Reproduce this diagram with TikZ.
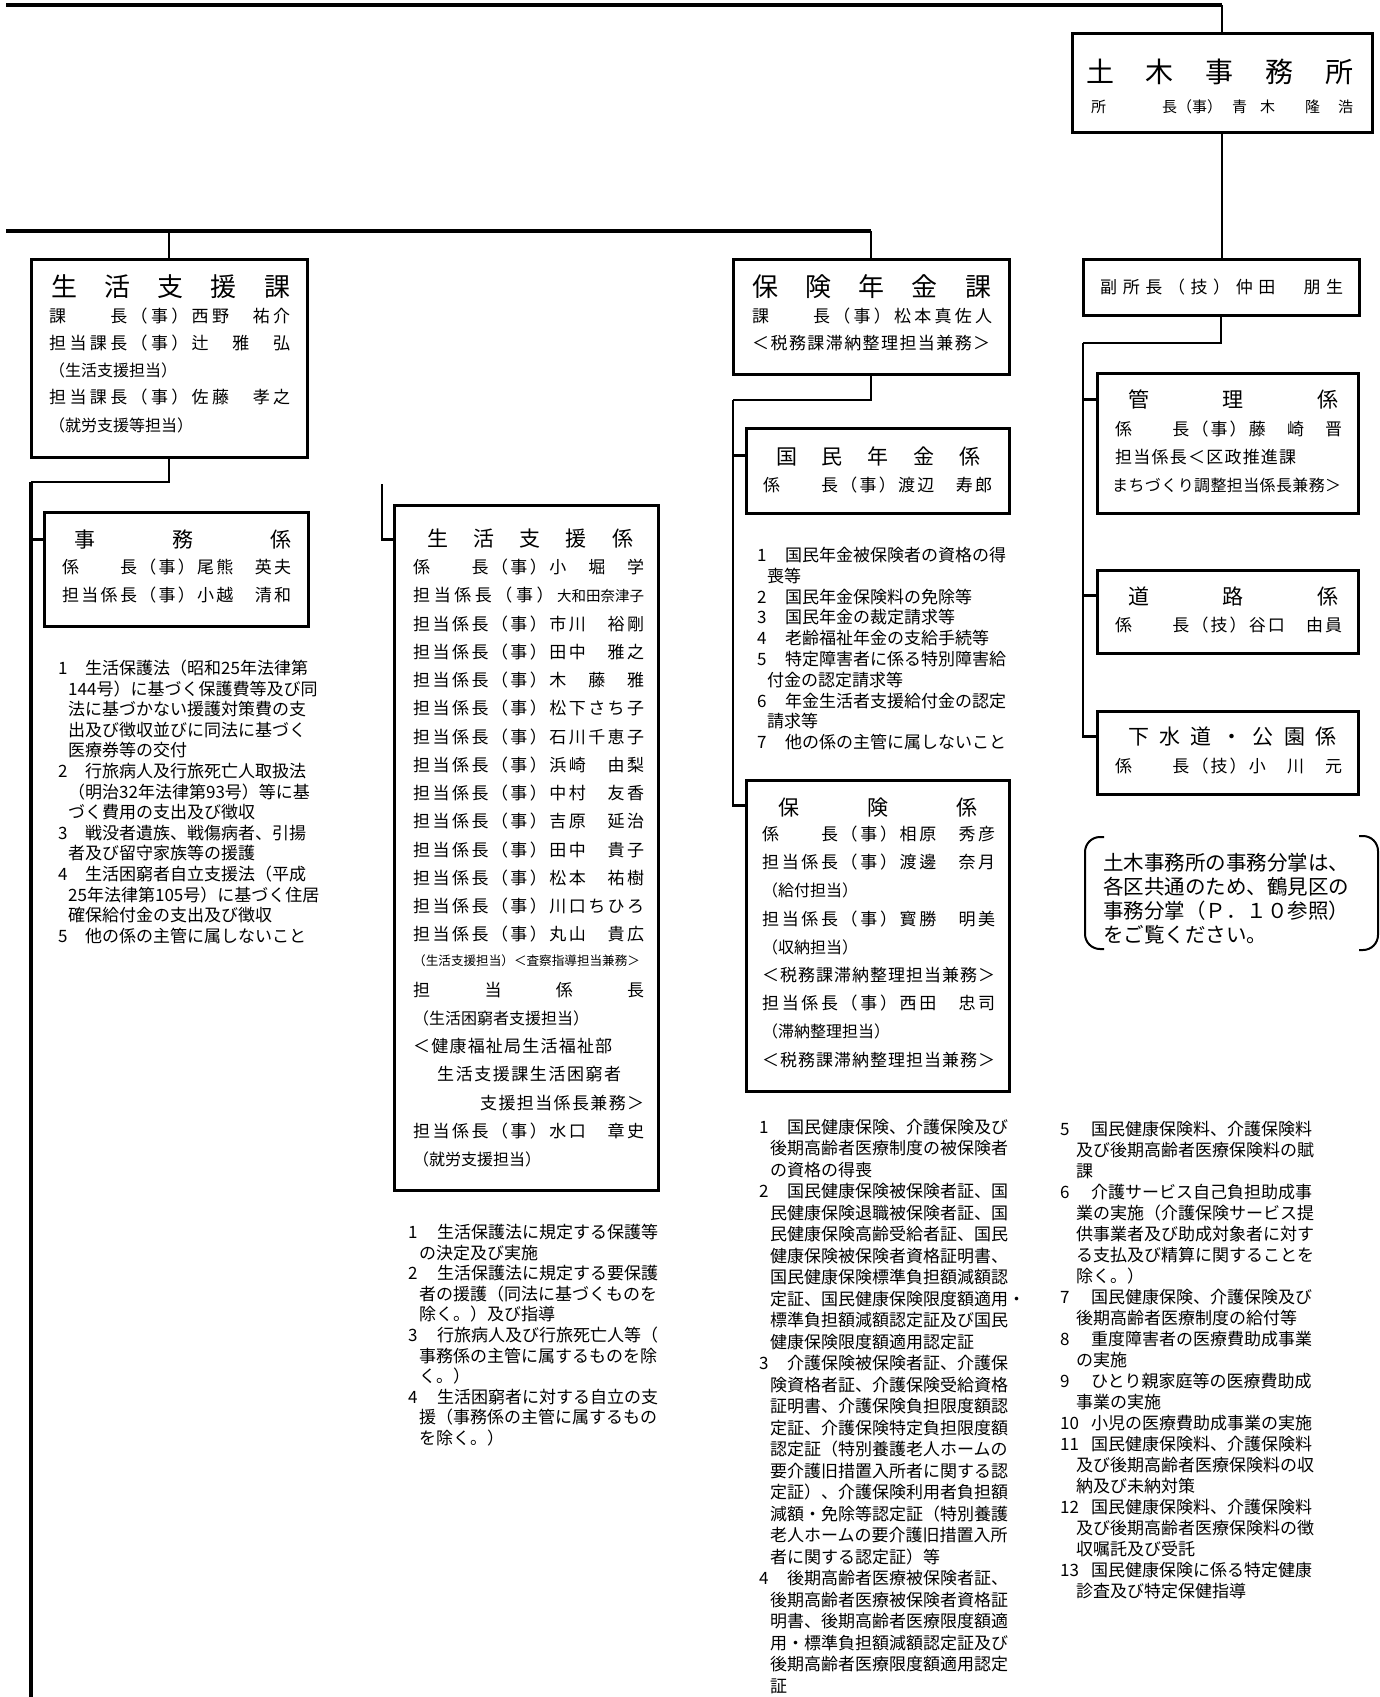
\documentclass[tikz,border=0pt]{standalone}
\usepackage{fontspec}
\setmainfont{Noto Sans CJK JP}
\ExplSyntaxOn
\NewDocumentCommand\spr{mm}{\hbox~to~#1{\hskip~0pt~plus~-1fil\relax\tl_map_inline:nn{#2}{\hfil##1}}}
\ExplSyntaxOff
\newcommand\Li[2]{\hbox{\hbox to\LstNw{#1\hss}#2}}
\newcommand\Lc[1]{\hbox{\hskip\LstCi #1}}
\newcommand\Lst[4]{\vtop{\def\LstNw{#2}\def\LstCi{#3}\baselineskip=#1\relax\lineskiplimit=-100pt\lineskip=0pt #4}}
\newcommand\bx[5]{\node[box, minimum width={(#4-#2)*1pt}, minimum height={(#5-#3)*1pt}] (#1) at ({(#2+#4)/2},{(#3+#5)/2}) {};}
\tikzset{
 box/.style={draw, line width=3pt, inner sep=0pt},
 conn/.style={line width=2.4pt},
 heavy/.style={line width=3.2pt},
 fs/.style={anchor=base west, inner sep=0pt, font=\fontsize{#1pt}{#1pt}\selectfont, yshift=-0.38*#1pt},
}
\begin{document}
\begin{tikzpicture}[x=1pt,y=-1pt]
\useasboundingbox (0,0) rectangle (1379,1697);
\fill[white] (0,0) rectangle (1379,1697);

% boxes
\bx{dobok}{1072}{33}{1372}{132}
\bx{fuku}{1083}{259}{1359}{315}
\bx{kanri}{1097}{373}{1358}{513}
\bx{doro}{1097}{570}{1358}{653}
\bx{gesui}{1097}{711}{1358}{794}
\bx{ska}{31}{259}{307}{457}
\bx{jimu}{44}{512}{308}{626}
\bx{ssk}{394}{505}{658}{1190}
\bx{hka}{733}{259}{1009}{374}
\bx{kok}{746}{428}{1009}{513}
\bx{hok}{746}{780}{1009}{1091}

% connectors
\coordinate (topL) at (6,5);
\draw[heavy] (topL) -- (topL -| dobok.north);
\draw[conn] (dobok.north) -- (topL -| dobok.north);
\draw[conn] (dobok.south) -- (dobok.south |- fuku.north);

\coordinate (midL) at (6,231);
\draw[heavy] (midL) -- (midL -| hka.north);
\draw[conn] (ska.north) -- (ska.north |- midL);
\draw[conn] (hka.north) -- (hka.north |- midL);

\coordinate (skB) at (31,482);
\coordinate (botL) at (31,1697);
\draw[conn] (ska.south) |- (skB);
\draw[heavy] (skB) -- (botL);
\coordinate (jimuS) at ([yshift=-29pt]jimu.north west);
\draw[conn] (jimuS) -- (jimuS -| skB);

\coordinate (sskT) at (382,484);
\coordinate (sskS) at ([yshift=-36pt]ssk.north west);
\draw[conn] (sskT) |- (sskS);

\coordinate (hkL) at (733,400);
\draw[conn] (hka.south) |- (hkL);
\coordinate (kokS) at ([yshift=-29pt]kok.north west);
\coordinate (hokS) at ([yshift=-27pt]hok.north west);
\draw[conn] (hkL) |- (hokS);
\draw[conn] (kokS) -- (kokS -| hkL);

\coordinate (fkL) at (1083,343);
\draw[conn] (fuku.south) |- (fkL);
\coordinate (kanS) at ([yshift=-28pt]kanri.north west);
\coordinate (droS) at ([yshift=-27pt]doro.north west);
\coordinate (gesS) at ([yshift=-27pt]gesui.north west);
\draw[conn] (fkL) |- (gesS);
\draw[conn] (kanS) -- (kanS -| fkL);
\draw[conn] (droS) -- (droS -| fkL);

% note bracket
\draw[line width=2pt, rounded corners=15pt] (1104,837) -- (1085,837) -- (1085,949) -- (1104,949);
\draw[line width=2pt, rounded corners=15pt] (1359,836) -- (1378,836) -- (1378,950) -- (1359,950);
\node[fs=20.5] (note) at (1103,863) {\vtop{\baselineskip=24pt\lineskiplimit=-100pt
 \hbox{土木事務所の事務分掌は、}\hbox{各区共通のため、鶴見区の}\hbox{事務分掌（Ｐ．１０参照）}\hbox{をご覧ください。}}};

% 土木事務所
\node[fs=28] (dobokT) at (1086,72) {\spr{267pt}{土木事務所}};
\node[fs=15] (dobokL) at (1091,107) {\hbox to 262pt{所\hfill 長（事）\hskip10pt 青\hskip13pt 木\hskip30pt 隆\hskip18pt 浩}};

% 副所長
\node[fs=17] (fukuT) at (1100,287) {\spr{243pt}{副所長（技）仲田　朋生}};

% 管理係
\node[fs=21] (kanriT) at (1128,400) {\spr{210pt}{管理係}};
\node[fs=17] (kanri1) at (1115,429) {\spr{227pt}{係　　長（事）藤　崎　晋}};
\node[fs=17] (kanri2) at (1115,457) {\spr{181pt}{担当係長＜区政推進課}};
\node[fs=16] (kanri3) at (1112,485) {\spr{229pt}{まちづくり調整担当係長兼務＞}};

% 道路係
\node[fs=21] (doroT) at (1128,597) {\spr{210pt}{道路係}};
\node[fs=17] (doro1) at (1115,625) {\spr{227pt}{係　　長（技）谷口　由員}};

% 下水道・公園係
\node[fs=21] (gesuiT) at (1128,737) {\spr{208pt}{下水道・公園係}};
\node[fs=17] (gesui1) at (1115,766) {\spr{227pt}{係　　長（技）小　川　元}};

% 生活支援課
\node[fs=26] (skaT) at (51,287) {\spr{239pt}{生活支援課}};
\node[fs=17] (ska1) at (49,316) {\spr{241pt}{課　　長（事）西野　祐介}};
\node[fs=17] (ska2) at (49,343) {\spr{241pt}{担当課長（事）辻　雅　弘}};
\node[fs=16] (ska3) at (49,370) {（生活支援担当）};
\node[fs=17] (ska4) at (49,397) {\spr{241pt}{担当課長（事）佐藤　孝之}};
\node[fs=16] (ska5) at (49,425) {（就労支援等担当）};

% 保険年金課
\node[fs=26] (hkaT) at (752,287) {\spr{239pt}{保険年金課}};
\node[fs=17] (hka1) at (752,316) {\spr{240pt}{課　　長（事）松本真佐人}};
\node[fs=17] (hka2) at (752,343) {\spr{238pt}{＜税務課滞納整理担当兼務＞}};

% 国民年金係
\node[fs=21] (kokT) at (776,457) {\spr{204pt}{国民年金係}};
\node[fs=17] (kok1) at (763,485) {\spr{229pt}{係　　長（事）渡辺　寿郎}};

% 事務係
\node[fs=21] (jimuT) at (74,540) {\spr{217pt}{事務係}};
\node[fs=17] (jimu1) at (62,567) {\spr{229pt}{係　　長（事）尾熊　英夫}};
\node[fs=17] (jimu2) at (62,595) {\spr{229pt}{担当係長（事）小越　清和}};

% 生活支援係
\node[fs=21] (sskT0) at (427,539) {\spr{206pt}{生活支援係}};
\node[fs=17] (ssk1) at (413,567) {\spr{231pt}{係　　長（事）小　堀　学}};
\node[fs=17] (ssk2) at (413,595) {\spr{231pt}{担当係長（事）{\fontsize{14.5pt}{14.5pt}\selectfont 大和田奈津子}}};
\node[fs=17] (ssk3) at (413,624) {\spr{231pt}{担当係長（事）市川　裕剛}};
\node[fs=17] (ssk4) at (413,652) {\spr{231pt}{担当係長（事）田中　雅之}};
\node[fs=17] (ssk5) at (413,680) {\spr{231pt}{担当係長（事）木　藤　雅}};
\node[fs=17] (ssk6) at (413,708) {\spr{231pt}{担当係長（事）松下さち子}};
\node[fs=17] (ssk7) at (413,737) {\spr{231pt}{担当係長（事）石川千恵子}};
\node[fs=17] (ssk8) at (413,765) {\spr{231pt}{担当係長（事）浜崎　由梨}};
\node[fs=17] (ssk9) at (413,793) {\spr{231pt}{担当係長（事）中村　友香}};
\node[fs=17] (ssk10) at (413,821) {\spr{231pt}{担当係長（事）吉原　延治}};
\node[fs=17] (ssk11) at (413,850) {\spr{231pt}{担当係長（事）田中　貴子}};
\node[fs=17] (ssk12) at (413,878) {\spr{231pt}{担当係長（事）松本　祐樹}};
\node[fs=17] (ssk13) at (413,906) {\spr{231pt}{担当係長（事）川口ちひろ}};
\node[fs=17] (ssk14) at (413,934) {\spr{231pt}{担当係長（事）丸山　貴広}};
\node[fs=12.6] (ssk15) at (413,961) {（生活支援担当）＜査察指導担当兼務＞};
\node[fs=17] (ssk16) at (413,990) {\spr{231pt}{担当係長}};
\node[fs=16] (ssk17) at (413,1018) {（生活困窮者支援担当）};
\node[fs=17] (ssk18) at (413,1046) {\spr{199pt}{＜健康福祉局生活福祉部}};
\node[fs=17] (ssk19) at (437,1074) {\spr{184pt}{生活支援課生活困窮者}};
\node[fs=17] (ssk20) at (480,1103) {\spr{164pt}{支援担当係長兼務＞}};
\node[fs=17] (ssk21) at (413,1131) {\spr{231pt}{担当係長（事）水口　章史}};
\node[fs=16] (ssk22) at (413,1159) {（就労支援担当）};

% 保険係
\node[fs=21] (hokT) at (778,808) {\spr{199pt}{保険係}};
\node[fs=17] (hok1) at (762,834) {\spr{233pt}{係　　長（事）相原　秀彦}};
\node[fs=17] (hok2) at (762,862) {\spr{233pt}{担当係長（事）渡邊　奈月}};
\node[fs=16] (hok3) at (762,890) {（給付担当）};
\node[fs=17] (hok4) at (762,919) {\spr{233pt}{担当係長（事）寳勝　明美}};
\node[fs=16] (hok5) at (762,947) {（収納担当）};
\node[fs=17] (hok6) at (762,975) {\spr{233pt}{＜税務課滞納整理担当兼務＞}};
\node[fs=17] (hok7) at (762,1003) {\spr{233pt}{担当係長（事）西田　忠司}};
\node[fs=16] (hok8) at (762,1031) {（滞納整理担当）};
\node[fs=17] (hok9) at (762,1060) {\spr{233pt}{＜税務課滞納整理担当兼務＞}};

% lists
\node[fs=17] (jimuList) at (58,668) {\Lst{20.6pt}{27pt}{10pt}{
 \Li{1}{生活保護法（昭和25年法律第}
 \Lc{144号）に基づく保護費等及び同}
 \Lc{法に基づかない援護対策費の支}
 \Lc{出及び徴収並びに同法に基づく}
 \Lc{医療券等の交付}
 \Li{2}{行旅病人及行旅死亡人取扱法}
 \Lc{（明治32年法律第93号）等に基}
 \Lc{づく費用の支出及び徴収}
 \Li{3}{戦没者遺族、戦傷病者、引揚}
 \Lc{者及び留守家族等の援護}
 \Li{4}{生活困窮者自立支援法（平成}
 \Lc{25年法律第105号）に基づく住居}
 \Lc{確保給付金の支出及び徴収}
 \Li{5}{他の係の主管に属しないこと}}};

\node[fs=17] (sskList) at (408,1232) {\Lst{20.6pt}{29pt}{11pt}{
 \Li{1}{生活保護法に規定する保護等}
 \Lc{の決定及び実施}
 \Li{2}{生活保護法に規定する要保護}
 \Lc{者の援護（同法に基づくものを}
 \Lc{除く。）及び指導}
 \Li{3}{行旅病人及び行旅死亡人等（}
 \Lc{事務係の主管に属するものを除}
 \Lc{く。）}
 \Li{4}{生活困窮者に対する自立の支}
 \Lc{援（事務係の主管に属するもの}
 \Lc{を除く。）}}};

\node[fs=17] (kokList) at (757,555) {\Lst{20.8pt}{28pt}{10pt}{
 \Li{1}{国民年金被保険者の資格の得}
 \Lc{喪等}
 \Li{2}{国民年金保険料の免除等}
 \Li{3}{国民年金の裁定請求等}
 \Li{4}{老齢福祉年金の支給手続等}
 \Li{5}{特定障害者に係る特別障害給}
 \Lc{付金の認定請求等}
 \Li{6}{年金生活者支援給付金の認定}
 \Lc{請求等}
 \Li{7}{他の係の主管に属しないこと}}};

\node[fs=17] (hokListA) at (759,1127) {\Lst{21.5pt}{28pt}{11pt}{
 \Li{1}{国民健康保険、介護保険及び}
 \Lc{後期高齢者医療制度の被保険者}
 \Lc{の資格の得喪}
 \Li{2}{国民健康保険被保険者証、国}
 \Lc{民健康保険退職被保険者証、国}
 \Lc{民健康保険高齢受給者証、国民}
 \Lc{健康保険被保険者資格証明書、}
 \Lc{国民健康保険標準負担額減額認}
 \Lc{定証、国民健康保険限度額適用・}
 \Lc{標準負担額減額認定証及び国民}
 \Lc{健康保険限度額適用認定証}
 \Li{3}{介護保険被保険者証、介護保}
 \Lc{険資格者証、介護保険受給資格}
 \Lc{証明書、介護保険負担限度額認}
 \Lc{定証、介護保険特定負担限度額}
 \Lc{認定証（特別養護老人ホームの}
 \Lc{要介護旧措置入所者に関する認}
 \Lc{定証）、介護保険利用者負担額}
 \Lc{減額・免除等認定証（特別養護}
 \Lc{老人ホームの要介護旧措置入所}
 \Lc{者に関する認定証）等}
 \Li{4}{後期高齢者医療被保険者証、}
 \Lc{後期高齢者医療被保険者資格証}
 \Lc{明書、後期高齢者医療限度額適}
 \Lc{用・標準負担額減額認定証及び}
 \Lc{後期高齢者医療限度額適用認定}
 \Lc{証}}};

\node[fs=17] (hokListB) at (1060,1129) {\Lst{21pt}{31pt}{16pt}{
 \Li{5}{国民健康保険料、介護保険料}
 \Lc{及び後期高齢者医療保険料の賦}
 \Lc{課}
 \Li{6}{介護サービス自己負担助成事}
 \Lc{業の実施（介護保険サービス提}
 \Lc{供事業者及び助成対象者に対す}
 \Lc{る支払及び精算に関することを}
 \Lc{除く。）}
 \Li{7}{国民健康保険、介護保険及び}
 \Lc{後期高齢者医療制度の給付等}
 \Li{8}{重度障害者の医療費助成事業}
 \Lc{の実施}
 \Li{9}{ひとり親家庭等の医療費助成}
 \Lc{事業の実施}
 \Li{10}{小児の医療費助成事業の実施}
 \Li{11}{国民健康保険料、介護保険料}
 \Lc{及び後期高齢者医療保険料の収}
 \Lc{納及び未納対策}
 \Li{12}{国民健康保険料、介護保険料}
 \Lc{及び後期高齢者医療保険料の徴}
 \Lc{収嘱託及び受託}
 \Li{13}{国民健康保険に係る特定健康}
 \Lc{診査及び特定保健指導}}};
\end{tikzpicture}
\end{document}
